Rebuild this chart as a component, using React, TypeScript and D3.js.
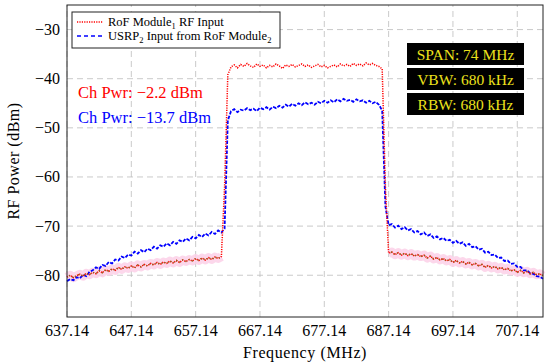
import * as d3 from 'd3';
import React, {useEffect, useRef} from "react";

// spectrum analyser sweep, 0.5 MHz bins from 637.14 MHz
const freqStart = 637.14;
const freqStep = 0.5;

const xTicks = [637.14, 647.14, 657.14, 667.14, 677.14, 687.14, 697.14, 707.14];
const yTicks = [-80, -70, -60, -50, -40, -30];

// RoF Module1 RF Input (dBm)
const rofInput = [
  -80.4, -80.0, -80.5, -80.1, -79.8, -80.2, -79.6, -79.9, -79.4, -79.7,
  -79.1, -79.5, -78.9, -79.2, -78.7, -79.0, -78.4, -78.8, -78.3, -78.6,
  -78.1, -78.5, -77.9, -78.3, -77.8, -78.1, -77.6, -77.9, -77.4, -77.8,
  -77.3, -77.6, -77.1, -77.5, -77.0, -77.4, -76.9, -77.2, -76.8, -77.1,
  -76.6, -77.0, -76.5, -76.9, -76.4, -76.8, -76.3, -76.6, -76.2,
  -62.0, -39.2,
  -37.6, -37.2, -37.8, -37.1, -37.5, -36.9, -37.4, -37.7, -37.0, -37.5,
  -37.2, -37.8, -37.3, -37.6, -37.0, -37.4, -37.9, -37.2, -37.5, -37.1,
  -37.6, -37.3, -37.0, -37.5, -37.2, -37.7, -37.4, -37.1, -37.6, -37.3,
  -37.8, -37.5, -37.2, -37.6, -37.0, -37.4, -37.1, -37.5, -36.9, -37.3,
  -37.0, -37.4, -36.8, -37.2, -36.9, -37.3, -37.5,
  -38.0, -62.0, -75.5,
  -75.3, -75.8, -75.4, -75.9, -75.5, -76.0, -75.6, -76.1, -75.8, -76.2,
  -75.9, -76.5, -76.1, -76.7, -76.4, -76.9, -76.6, -77.1, -76.8, -77.4,
  -77.0, -77.5, -77.2, -77.7, -77.4, -77.9, -77.6, -78.1, -77.8, -78.4,
  -78.0, -78.5, -78.2, -78.7, -78.4, -78.9, -78.6, -79.1, -78.9, -79.4,
  -79.0, -79.5, -79.2, -79.7, -79.4, -79.9, -79.7, -80.1
];

// USRP2 Input from RoF Module2 (dBm)
const usrpInput = [
  -81.2, -80.8, -81.0, -80.4, -80.6, -79.9, -80.2, -79.3, -79.0, -78.4,
  -78.7, -77.9, -78.1, -77.3, -77.6, -76.8, -77.0, -76.2, -76.5, -75.8,
  -76.0, -75.2, -75.6, -74.9, -75.3, -74.6, -74.9, -74.2, -74.6, -73.9,
  -74.2, -73.5, -73.9, -73.2, -73.6, -72.9, -73.2, -72.5, -72.9, -72.2,
  -72.5, -71.8, -72.2, -71.5, -71.9, -71.2, -71.6, -70.9, -71.3,
  -70.5, -48.5,
  -46.6, -46.2, -46.8, -46.3, -46.5, -46.0, -46.4, -46.1, -46.6, -45.9,
  -46.2, -45.8, -46.3, -45.7, -46.0, -45.5, -45.9, -45.3, -45.7, -45.1,
  -45.5, -45.0, -45.4, -44.8, -45.2, -44.9, -45.3, -44.7, -45.0, -44.5,
  -44.9, -44.4, -44.8, -44.2, -44.6, -44.1, -44.5, -44.3, -44.7, -44.2,
  -44.6, -44.4, -44.9, -44.5, -45.0, -44.7, -45.3,
  -46.5, -66.0, -69.8,
  -69.6, -70.3, -69.9, -70.6, -70.2, -70.9, -70.6, -71.3, -71.0, -71.7,
  -71.3, -72.0, -71.7, -72.4, -72.1, -72.7, -72.4, -73.0, -72.8, -73.4,
  -73.0, -73.6, -73.3, -74.0, -73.6, -74.3, -74.1, -74.8, -74.6, -75.4,
  -75.2, -75.9, -75.8, -76.5, -76.4, -77.1, -77.0, -77.7, -77.6, -78.3,
  -78.3, -79.0, -79.0, -79.6, -79.7, -80.2, -80.3, -80.7
];

// channel edges of the RoF band (MHz)
const bandEdges = [661.4, 686.9];

const chPwrLabels = ["Ch Pwr: \u22122.2 dBm", "Ch Pwr: \u221213.7 dBm"];
const infoLabels = ["SPAN: 74 MHz", "VBW: 680 kHz", "RBW: 680 kHz"];

const fmtTick = (v: number) => (v < 0 ? "\u2212" + Math.abs(v) : String(v));

const FONT = "Liberation Serif";

export default function App() {
  const node = useRef<SVGSVGElement | null>(null);

  useEffect(() => {
    const el = node.current;
    if (!el) return;
    el.innerHTML = '';

    const width = 550;
    const height = 363;
    const margin = {top: 5, right: 7, bottom: 46, left: 67};

    const svg = d3.select(el).attr("width", width).attr("height", height)
        .attr("font-family", FONT);

    const x = d3.scaleLinear()
        .domain([637.14, 711.14])
        .range([margin.left, width - margin.right]);
    const y = d3.scaleLinear()
        .domain([-88.5, -25])
        .range([height - margin.bottom, margin.top]);

    const freqs = rofInput.map((_, i) => freqStart + i * freqStep);

    // grid
    const grid = svg.append("g")
        .attr("stroke", "#bdbdbd").attr("stroke-width", 0.8)
        .attr("stroke-dasharray", "6 4");
    grid.selectAll("line.v").data(xTicks).join("line").attr("class", "v")
        .attr("x1", d => x(d)).attr("x2", d => x(d))
        .attr("y1", y.range()[0]).attr("y2", y.range()[1]);
    grid.selectAll("line.h").data(yTicks).join("line").attr("class", "h")
        .attr("y1", d => y(d)).attr("y2", d => y(d))
        .attr("x1", x.range()[0]).attr("x2", x.range()[1]);

    const line = d3.line<number>()
        .x((_, i) => x(freqs[i]))
        .y(d => y(d));

    const inSkirt = (i: number) => freqs[i] < bandEdges[0] || freqs[i] > bandEdges[1];
    const skirtLine = d3.line<number>()
        .defined((_, i) => inSkirt(i))
        .x((_, i) => x(freqs[i]))
        .y(d => y(d));

    const plot = svg.append("g");

    // pink shading along out-of-band part of RoF trace
    plot.append("path").datum(rofInput)
        .attr("d", skirtLine)
        .attr("fill", "none").attr("stroke", "#fbd0e8")
        .attr("stroke-width", 9).attr("stroke-linejoin", "round")
        .attr("opacity", 0.85);

    plot.append("path").datum(usrpInput)
        .attr("d", line)
        .attr("fill", "none").attr("stroke", "#0000ff")
        .attr("stroke-width", 1.8)
        .attr("stroke-dasharray", "3.5 1.5");

    plot.append("path").datum(rofInput)
        .attr("d", line)
        .attr("fill", "none").attr("stroke", "#ff0000")
        .attr("stroke-width", 1.5)
        .attr("stroke-dasharray", "1.2 1.2");

    plot.append("path").datum(rofInput)
        .attr("d", skirtLine)
        .attr("fill", "none").attr("stroke", "#8f6418")
        .attr("stroke-width", 1.5)
        .attr("stroke-dasharray", "1.2 2.4")
        .attr("stroke-dashoffset", 1.2);

    // frame
    svg.append("rect")
        .attr("x", margin.left).attr("y", margin.top)
        .attr("width", width - margin.left - margin.right)
        .attr("height", height - margin.top - margin.bottom)
        .attr("fill", "none").attr("stroke", "#222").attr("stroke-width", 1);

    // tick labels
    svg.append("g").selectAll("text").data(xTicks).join("text")
        .attr("font-family", FONT)
        .attr("x", d => x(d)).attr("y", height - margin.bottom + 19)
        .attr("text-anchor", "middle").attr("font-size", 16)
        .text(d => d.toFixed(2));
    svg.append("g").selectAll("text").data(yTicks).join("text")
        .attr("font-family", FONT)
        .attr("x", margin.left - 7).attr("y", d => y(d) + 5.5)
        .attr("text-anchor", "end").attr("font-size", 16)
        .text(fmtTick);

    svg.append("text").attr("font-family", FONT)
        .attr("x", (margin.left + width - margin.right) / 2).attr("y", height - 5)
        .attr("text-anchor", "middle").attr("font-size", 16).attr("letter-spacing", 0.6)
        .text("Frequency (MHz)");
    svg.append("text").attr("font-family", FONT)
        .attr("transform", `translate(19,${(margin.top + height - margin.bottom) / 2}) rotate(-90)`)
        .attr("text-anchor", "middle").attr("font-size", 16).attr("letter-spacing", 0.5)
        .text("RF Power (dBm)");

    // legend
    const lg = svg.append("g").attr("transform", "translate(72,12)");
    lg.append("rect").attr("width", 208).attr("height", 36)
        .attr("fill", "#fff").attr("stroke", "#222").attr("stroke-width", 1);
    const entries = [
      {color: "#ff0000", dash: "1.2 1.2", main: "RoF Module", sub: "1", tail: " RF Input", tailSub: ""},
      {color: "#0000ff", dash: "4 3", main: "USRP", sub: "2", tail: " Input from RoF Module", tailSub: "2"},
    ];
    entries.forEach((e, i) => {
      const yy = 10 + i * 14;
      lg.append("line").attr("x1", 5).attr("x2", 31).attr("y1", yy).attr("y2", yy)
          .attr("stroke", e.color).attr("stroke-width", 1.5)
          .attr("stroke-dasharray", e.dash);
      const t = lg.append("text").attr("font-family", FONT)
          .attr("x", 36).attr("y", yy + 4).attr("font-size", 12.5);
      t.append("tspan").text(e.main);
      t.append("tspan").attr("font-size", 8.5).attr("dy", 3).text(e.sub);
      t.append("tspan").attr("dy", -3).text(e.tail);
      if (e.tailSub) t.append("tspan").attr("font-size", 8.5).attr("dy", 3).text(e.tailSub);
    });

    // channel power annotations
    svg.append("g").selectAll("text").data(chPwrLabels).join("text")
        .attr("font-family", FONT)
        .attr("x", 78).attr("y", (_, i) => 98 + i * 25)
        .attr("font-size", 16.5)
        .attr("fill", (_, i) => (i === 0 ? "#ff0000" : "#0000ff"))
        .text(d => d);

    // analyser settings boxes
    const info = svg.append("g").attr("transform", "translate(407,43)");
    infoLabels.forEach((s, i) => {
      info.append("rect").attr("x", 0).attr("y", i * 25)
          .attr("width", 117).attr("height", 22).attr("fill", "#000");
      info.append("text").attr("font-family", FONT)
          .attr("x", 58.5).attr("y", i * 25 + 16.5)
          .attr("text-anchor", "middle").attr("font-size", 15.5)
          .attr("fill", "#ece21c").text(s);
    });
  }, []);

  return (
      <svg ref={node} style={{position: "absolute", left: 0, top: 0, background: "#fff"}}/>
  );
}
